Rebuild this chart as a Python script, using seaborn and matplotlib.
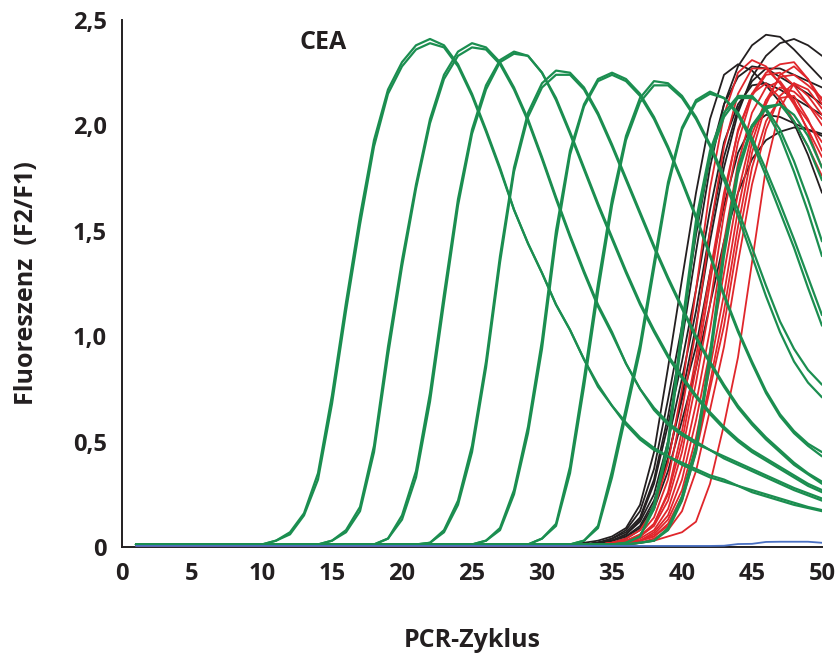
import numpy as np
import pandas as pd
import matplotlib
matplotlib.use("Agg")
import matplotlib.pyplot as plt
import seaborn as sns
from matplotlib.ticker import FuncFormatter, MultipleLocator

# ---------------------------------------------------------------
# Amplification curves (fluorescence ratio F2/F1 per PCR cycle).
# Every list ends at cycle 50; earlier cycles sit on the baseline.
# ---------------------------------------------------------------
LAST_CYCLE = 50
BASE_GREEN = 0.012
BASE_BLACK = 0.010
BASE_RED = 0.008
BASE_BLUE = 0.005

# Standards (dilution series, duplicates a/b)
std_1a = [0.03, 0.07, 0.16, 0.35, 0.72, 1.16, 1.57, 1.93, 2.17, 2.30, 2.38, 2.41, 2.38, 2.29, 2.15, 1.98, 1.80, 1.60, 1.44, 1.30,
          1.15, 1.03, 0.89, 0.76, 0.67, 0.58, 0.51, 0.46, 0.43, 0.39, 0.36, 0.33, 0.31, 0.29, 0.26, 0.24, 0.22, 0.20, 0.185, 0.17]
std_1b = [0.03, 0.06, 0.15, 0.32, 0.68, 1.12, 1.53, 1.90, 2.15, 2.28, 2.36, 2.39, 2.37, 2.28, 2.14, 1.97, 1.79, 1.60, 1.44, 1.30,
          1.15, 1.03, 0.89, 0.77, 0.67, 0.59, 0.52, 0.47, 0.43, 0.40, 0.37, 0.34, 0.32, 0.29, 0.27, 0.25, 0.23, 0.21, 0.19, 0.175]
std_2a = [0.03, 0.08, 0.19, 0.48, 0.95, 1.36, 1.72, 2.03, 2.24, 2.35, 2.39, 2.37, 2.30, 2.18, 2.03, 1.85, 1.66, 1.48, 1.31, 1.15,
          1.02, 0.87, 0.75, 0.65, 0.58, 0.53, 0.49, 0.46, 0.42, 0.39, 0.36, 0.33, 0.30, 0.27, 0.245, 0.22]
std_2b = [0.03, 0.07, 0.17, 0.45, 0.91, 1.33, 1.70, 2.01, 2.22, 2.33, 2.37, 2.36, 2.29, 2.17, 2.02, 1.84, 1.65, 1.47, 1.30, 1.14,
          1.01, 0.87, 0.75, 0.66, 0.59, 0.54, 0.50, 0.46, 0.43, 0.40, 0.37, 0.34, 0.31, 0.28, 0.255, 0.23]
std_3a = [0.04, 0.15, 0.36, 0.73, 1.20, 1.65, 1.98, 2.19, 2.31, 2.35, 2.33, 2.25, 2.12, 1.96, 1.79, 1.62, 1.46, 1.30, 1.15, 1.02,
          0.90, 0.80, 0.71, 0.63, 0.56, 0.50, 0.45, 0.41, 0.37, 0.33, 0.29, 0.26]
std_3b = [0.04, 0.13, 0.33, 0.69, 1.16, 1.62, 1.96, 2.17, 2.30, 2.34, 2.33, 2.25, 2.13, 1.97, 1.80, 1.63, 1.47, 1.31, 1.16, 1.03,
          0.91, 0.81, 0.72, 0.64, 0.57, 0.51, 0.46, 0.42, 0.38, 0.34, 0.30, 0.27]
std_4a = [0.02, 0.08, 0.22, 0.48, 0.88, 1.38, 1.80, 2.06, 2.20, 2.26, 2.25, 2.18, 2.06, 1.91, 1.75, 1.59, 1.43, 1.28, 1.14, 1.00,
          0.88, 0.77, 0.67, 0.59, 0.52, 0.46, 0.40, 0.35, 0.31]
std_4b = [0.02, 0.07, 0.20, 0.45, 0.85, 1.35, 1.78, 2.04, 2.18, 2.24, 2.24, 2.17, 2.05, 1.90, 1.74, 1.58, 1.42, 1.27, 1.13, 0.99,
          0.87, 0.76, 0.66, 0.58, 0.51, 0.45, 0.39, 0.345, 0.30]
std_5a = [0.03, 0.09, 0.27, 0.57, 0.98, 1.50, 1.88, 2.10, 2.22, 2.25, 2.22, 2.15, 2.04, 1.90, 1.74, 1.57, 1.39, 1.20, 1.03, 0.88,
          0.74, 0.63, 0.55, 0.49, 0.45]
std_5b = [0.03, 0.08, 0.25, 0.54, 0.94, 1.46, 1.86, 2.09, 2.21, 2.24, 2.21, 2.14, 2.03, 1.89, 1.73, 1.56, 1.38, 1.19, 1.02, 0.87,
          0.73, 0.62, 0.54, 0.48, 0.43]
std_6a = [0.04, 0.11, 0.38, 0.80, 1.25, 1.65, 1.95, 2.13, 2.21, 2.20, 2.14, 2.04, 1.91, 1.76, 1.60, 1.42, 1.24, 1.07, 0.94, 0.84, 0.77]
std_6b = [0.04, 0.10, 0.35, 0.76, 1.21, 1.62, 1.93, 2.11, 2.19, 2.19, 2.13, 2.03, 1.90, 1.74, 1.57, 1.38, 1.19, 1.02, 0.88, 0.78, 0.71]
std_7a = [0.03, 0.10, 0.36, 0.66, 0.96, 1.35, 1.73, 1.99, 2.12, 2.16, 2.13, 2.05, 1.92, 1.76, 1.59, 1.42, 1.23, 1.05]
std_7b = [0.03, 0.09, 0.33, 0.63, 0.93, 1.32, 1.71, 1.98, 2.11, 2.15, 2.13, 2.06, 1.94, 1.79, 1.63, 1.46, 1.28, 1.10]
std_8a = [0.02, 0.05, 0.20, 0.50, 1.05, 1.55, 1.88, 2.06, 2.14, 2.14, 2.07, 1.95, 1.78, 1.59, 1.38]
std_8b = [0.02, 0.05, 0.18, 0.47, 1.00, 1.51, 1.85, 2.04, 2.13, 2.13, 2.08, 1.98, 1.83, 1.65, 1.45]
std_9a = [0.02, 0.03, 0.09, 0.24, 0.48, 0.92, 1.42, 1.80, 2.00, 2.09, 2.10, 2.02, 1.90, 1.74]
std_9b = [0.02, 0.03, 0.08, 0.22, 0.45, 0.88, 1.38, 1.77, 1.99, 2.08, 2.10, 2.05, 1.95, 1.80]

# Samples, first group (cycles 33-50)
blk_1 = [0.02, 0.03, 0.05, 0.09, 0.20, 0.45, 0.85, 1.27, 1.68, 2.03, 2.24, 2.29, 2.26, 2.19, 2.11, 2.01, 1.86, 1.68]
blk_2 = [0.01, 0.02, 0.04, 0.07, 0.14, 0.32, 0.62, 0.98, 1.40, 1.80, 2.10, 2.28, 2.38, 2.43, 2.42, 2.36, 2.29, 2.22]
blk_3 = [0.01, 0.02, 0.03, 0.05, 0.09, 0.20, 0.42, 0.72, 1.05, 1.45, 1.80, 2.06, 2.23, 2.33, 2.39, 2.41, 2.38, 2.33]
blk_4 = [0.01, 0.02, 0.04, 0.08, 0.17, 0.37, 0.70, 1.05, 1.48, 1.85, 2.10, 2.23, 2.28, 2.27, 2.23, 2.19, 2.15, 2.10]
blk_5 = [0.01, 0.02, 0.03, 0.06, 0.12, 0.25, 0.50, 0.80, 1.12, 1.50, 1.85, 2.08, 2.21, 2.27, 2.27, 2.24, 2.21, 2.18]
blk_6 = [0.01, 0.02, 0.03, 0.05, 0.10, 0.22, 0.42, 0.70, 0.95, 1.30, 1.62, 1.87, 2.00, 2.05, 2.04, 2.01, 1.98, 1.95]
blk_7 = [0.01, 0.01, 0.02, 0.04, 0.08, 0.18, 0.36, 0.60, 0.85, 1.15, 1.45, 1.68, 1.84, 1.93, 1.97, 1.99, 1.98, 1.96]
blk_8 = [0.01, 0.02, 0.03, 0.06, 0.13, 0.30, 0.58, 0.88, 1.22, 1.60, 1.92, 2.10, 2.19, 2.20, 2.17, 2.13, 2.09, 2.05]

# Samples, second group (cycles 34-50)
red_1 = [0.01, 0.02, 0.04, 0.08, 0.18, 0.40, 0.75, 1.22, 1.70, 2.05, 2.25, 2.31, 2.28, 2.20, 2.10, 1.98, 1.85]
red_2 = [0.01, 0.02, 0.03, 0.06, 0.14, 0.32, 0.65, 1.03, 1.50, 1.90, 2.15, 2.27, 2.27, 2.20, 2.11, 2.02, 1.92]
red_3 = [0.01, 0.02, 0.03, 0.05, 0.11, 0.26, 0.55, 0.90, 1.30, 1.68, 1.97, 2.15, 2.25, 2.29, 2.30, 2.22, 2.10]
red_4 = [0.01, 0.02, 0.03, 0.05, 0.10, 0.22, 0.45, 0.78, 1.15, 1.58, 1.92, 2.14, 2.24, 2.25, 2.19, 2.10, 2.00]
red_5 = [0.01, 0.01, 0.02, 0.04, 0.08, 0.18, 0.38, 0.68, 1.03, 1.45, 1.82, 2.06, 2.18, 2.21, 2.12, 1.97, 1.80]
red_6 = [0.01, 0.01, 0.02, 0.03, 0.07, 0.15, 0.32, 0.60, 0.93, 1.30, 1.68, 1.96, 2.12, 2.18, 2.16, 2.10, 2.03]
red_7 = [0.01, 0.01, 0.02, 0.03, 0.06, 0.13, 0.27, 0.52, 0.85, 1.20, 1.60, 1.92, 2.12, 2.23, 2.24, 2.19, 2.13]
red_8 = [0.01, 0.01, 0.02, 0.03, 0.05, 0.10, 0.22, 0.45, 0.75, 1.05, 1.45, 1.80, 2.02, 2.13, 2.14, 2.03, 1.88]
red_9 = [0.01, 0.01, 0.01, 0.02, 0.04, 0.08, 0.17, 0.36, 0.65, 0.95, 1.35, 1.72, 1.98, 2.14, 2.20, 2.14, 2.05]
red_10 = [0.01, 0.01, 0.01, 0.02, 0.03, 0.05, 0.07, 0.12, 0.30, 0.58, 0.90, 1.35, 1.80, 2.08, 2.20, 2.17, 2.08]
red_11 = [0.01, 0.02, 0.03, 0.05, 0.11, 0.25, 0.50, 0.85, 1.25, 1.65, 1.98, 2.15, 2.20, 2.13, 2.02, 1.90, 1.76]
red_12 = [0.01, 0.01, 0.02, 0.03, 0.05, 0.11, 0.24, 0.47, 0.78, 1.12, 1.52, 1.87, 2.10, 2.24, 2.28, 2.22, 2.12]

# Negative control (cycles 42-50)
ntc = [0.005, 0.006, 0.014, 0.015, 0.024, 0.025, 0.025, 0.025, 0.020]

GREEN = "#1b8e50"
BLACK = "#231f20"
RED = "#e0262b"
BLUE = "#4a70c2"
TEXT = "#231f20"


def trace(name, group, values, base):
    """Long-form rows for one curve; cycles before the listed values sit on the baseline."""
    start = LAST_CYCLE - len(values) + 1
    ys = [base] * (start - 1) + list(values)
    return pd.DataFrame({
        "Zyklus": np.arange(1, LAST_CYCLE + 1),
        "F": ys,
        "Probe": name,
        "Gruppe": group,
    })


standards = [std_1a, std_1b, std_2a, std_2b, std_3a, std_3b, std_4a, std_4b, std_5a, std_5b,
             std_6a, std_6b, std_7a, std_7b, std_8a, std_8b, std_9a, std_9b]
blacks = [blk_1, blk_2, blk_3, blk_4, blk_5, blk_6, blk_7, blk_8]
reds = [red_1, red_2, red_3, red_4, red_5, red_6, red_7, red_8, red_9, red_10, red_11, red_12]

df_std = pd.concat([trace(f"S{i}", "Standard", v, BASE_GREEN) for i, v in enumerate(standards)])
df_blk = pd.concat([trace(f"B{i}", "Probe A", v, BASE_BLACK) for i, v in enumerate(blacks)])
df_red = pd.concat([trace(f"R{i}", "Probe B", v, BASE_RED) for i, v in enumerate(reds)])
df_ntc = trace("NTC", "NTC", ntc, BASE_BLUE)

sns.set_theme(style="white")
plt.rcParams["font.family"] = ["Open Sans", "DejaVu Sans"]
plt.rcParams["font.weight"] = "bold"
plt.rcParams["axes.labelweight"] = "bold"

fig = plt.figure(figsize=(8.39, 6.61), dpi=100)
ax = fig.add_axes([122 / 839, 1 - 547 / 661, 700 / 839, 527 / 661])

common = dict(x="Zyklus", y="F", units="Probe", estimator=None, legend=False, ax=ax,
              solid_joinstyle="round", solid_capstyle="round")
sns.lineplot(data=df_blk, color=BLACK, lw=1.3, zorder=2, **common)
sns.lineplot(data=df_red, color=RED, lw=1.3, zorder=3, **common)
sns.lineplot(data=df_std, color=GREEN, lw=1.6, zorder=4, **common)
sns.lineplot(data=df_ntc, color=BLUE, lw=1.3, zorder=5, **common)

ax.set_xlim(0, 50)
ax.set_ylim(0, 2.5)
ax.xaxis.set_major_locator(MultipleLocator(5))
ax.yaxis.set_major_locator(MultipleLocator(0.5))
ax.yaxis.set_major_formatter(FuncFormatter(lambda v, _: "0" if abs(v) < 1e-9 else f"{v:.1f}".replace(".", ",")))

for side in ("top", "right"):
    ax.spines[side].set_visible(False)
for side in ("left", "bottom"):
    ax.spines[side].set_color(BLACK)
    ax.spines[side].set_linewidth(1.4)

ax.tick_params(axis="both", which="major", direction="out", length=4, width=1.3,
               color=BLACK, labelsize=17, labelcolor=TEXT)
ax.tick_params(axis="x", pad=7)
ax.tick_params(axis="y", pad=7)
for lbl in ax.get_xticklabels() + ax.get_yticklabels():
    lbl.set_fontweight("bold")

ax.set_xlabel("PCR-Zyklus", fontsize=18, fontweight="bold", color=TEXT, labelpad=30)
ax.set_ylabel("Fluoreszenz  (F2/F1)", fontsize=18, fontweight="bold", color=TEXT, labelpad=24)

ax.text(12.7, 2.395, "CEA", fontsize=18, fontweight="bold", color=TEXT, ha="left", va="center")

fig.savefig("out.png", dpi=100)
